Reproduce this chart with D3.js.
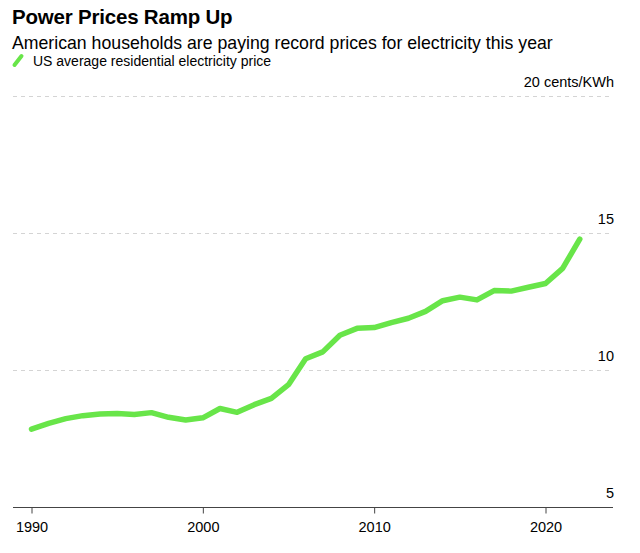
<!DOCTYPE html>
<html>
<head>
<meta charset="utf-8">
<script src="https://cdn.jsdelivr.net/npm/d3@7"></script>
<style>
  html, body { margin: 0; padding: 0; background: #fff; }
  svg { display: block; font-family: "Liberation Sans", Arial, Helvetica, sans-serif; }
</style>
</head>
<body>
<svg id="chart" width="640" height="553"></svg>
<script>
const title = "Power Prices Ramp Up";
const subtitle = "American households are paying record prices for electricity this year";
const legendLabel = "US average residential electricity price";
const unitLabel = "cents/KWh";

const years = [1990,1991,1992,1993,1994,1995,1996,1997,1998,1999,2000,2001,2002,2003,2004,2005,2006,2007,2008,2009,2010,2011,2012,2013,2014,2015,2016,2017,2018,2019,2020,2021,2022];
const prices = [7.83,8.04,8.21,8.32,8.38,8.40,8.36,8.43,8.26,8.16,8.24,8.58,8.44,8.72,8.95,9.45,10.40,10.65,11.26,11.51,11.54,11.72,11.88,12.13,12.52,12.65,12.55,12.89,12.87,13.01,13.15,13.70,14.77];
const xTicks = [1990, 2000, 2010, 2020];
const yTicks = [5, 10, 15, 20];

const green = "#68e549";
const svg = d3.select("#chart");

const x = d3.scaleLinear().domain([1990, 2020]).range([31.5, 545.5]);
const y = d3.scaleLinear().domain([5, 20]).range([506.5, 96]);
const left = 13, right = 613;

// Title, subtitle
svg.append("text").attr("x", 12).attr("y", 24)
  .attr("font-size", 20.5).attr("font-weight", "bold").attr("fill", "#000")
  .attr("letter-spacing", -0.2).text(title);
svg.append("text").attr("x", 12).attr("y", 48.5)
  .attr("font-size", 17.7).attr("fill", "#000").text(subtitle);

// Legend
svg.append("line").attr("x1", 14.5).attr("y1", 65).attr("x2", 21.5).attr("y2", 56)
  .attr("stroke", green).attr("stroke-width", 4).attr("stroke-linecap", "round");
svg.append("text").attr("x", 33).attr("y", 65.5)
  .attr("font-size", 14).attr("fill", "#000").text(legendLabel);

// Gridlines
svg.append("g").selectAll("line").data(yTicks.filter(d => d !== 5)).join("line")
  .attr("x1", left).attr("x2", 609)
  .attr("y1", d => Math.round(y(d)) + 0.5).attr("y2", d => Math.round(y(d)) + 0.5)
  .attr("stroke", "#d4d4d4").attr("stroke-width", 1).attr("stroke-dasharray", "4,4");

// Y labels
svg.append("g").selectAll("text").data(yTicks).join("text")
  .attr("x", 614).attr("y", d => y(d) - 9)
  .attr("text-anchor", "end").attr("font-size", 14.5).attr("fill", "#000")
  .text(d => d === 20 ? d + " " + unitLabel : d);

// X axis
const xAxis = d3.axisBottom(x).tickValues(xTicks).tickFormat(d3.format("d")).tickSize(6).tickSizeOuter(0);
const gx = svg.append("g").attr("transform", `translate(0,${Math.round(y(5)) + 0.5})`).call(xAxis);
gx.select(".domain").remove();
gx.append("line").attr("x1", left).attr("x2", right).attr("stroke", "#444").attr("stroke-width", 1);
gx.selectAll(".tick line").attr("stroke", "#444");
gx.selectAll(".tick text").attr("font-size", 14.5).attr("fill", "#000").attr("y", 14)
  .attr("font-family", "Liberation Sans, Arial, sans-serif");

// Line
const data = years.map((yr, i) => ({yr, v: prices[i]}));
const line = d3.line().x(d => x(d.yr)).y(d => y(d.v));
svg.append("path").datum(data).attr("d", line)
  .attr("fill", "none").attr("stroke", "#fff").attr("stroke-width", 11)
  .attr("stroke-linejoin", "round").attr("stroke-linecap", "round");
svg.append("path").datum(data).attr("d", line)
  .attr("fill", "none").attr("stroke", green).attr("stroke-width", 5.5)
  .attr("stroke-linejoin", "round").attr("stroke-linecap", "round");
</script>
</body>
</html>
